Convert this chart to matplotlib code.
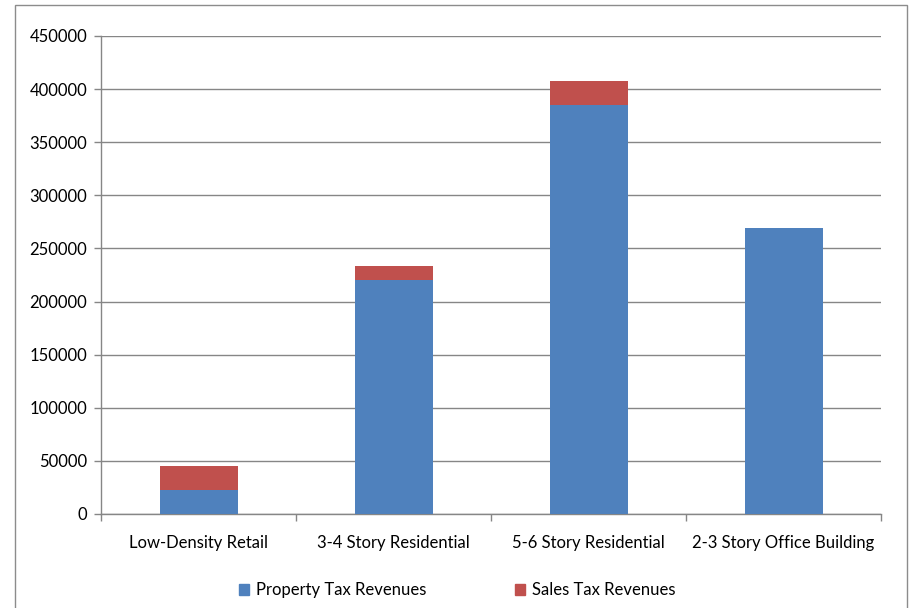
import matplotlib
matplotlib.use("Agg")
import matplotlib.pyplot as plt
from matplotlib.patches import Rectangle, Patch

categories = ["Low-Density Retail", "3-4 Story Residential", "5-6 Story Residential", "2-3 Story Office Building"]
property_tax = [22500, 220000, 385000, 269000]
sales_tax = [22600, 13200, 22800, 0]
y_ticks = [0, 50000, 100000, 150000, 200000, 250000, 300000, 350000, 400000, 450000]

blue = "#4F81BD"
red = "#C0504D"
grid_c = "#868686"

plt.rcParams["font.family"] = ["Lato", "DejaVu Sans"]
FS = 12

W, H = 909, 608
fig = plt.figure(figsize=(W / 100, H / 100), dpi=100)
ax = fig.add_axes([101 / W, 1 - 514 / H, (881 - 101) / W, (514 - 36) / H])

x = list(range(len(categories)))
ax.bar(x, property_tax, width=0.4, color=blue, zorder=3, label="Property Tax Revenues")
ax.bar(x, sales_tax, width=0.4, bottom=property_tax, color=red, zorder=3, label="Sales Tax Revenues")

ax.set_xlim(-0.5, len(categories) - 0.5)
ax.set_ylim(0, 450000)
ax.set_yticks(y_ticks)
ax.set_yticklabels([str(v) for v in y_ticks], fontsize=FS)
ax.yaxis.grid(True, color=grid_c, linewidth=1.0, zorder=0)

ax.set_xticks(x)
ax.set_xticklabels(categories, fontsize=FS)
ax.tick_params(axis="x", length=0, pad=15)
ax.tick_params(axis="y", length=5, color=grid_c, width=1.0, pad=5)
# category boundary ticks along the x-axis
ax.set_xticks([i - 0.5 for i in range(len(categories) + 1)], minor=True)
ax.tick_params(axis="x", which="minor", length=5, color=grid_c, width=1.0)

for s in ["top", "right"]:
    ax.spines[s].set_visible(False)
for s in ["left", "bottom"]:
    ax.spines[s].set_color(grid_c)
    ax.spines[s].set_linewidth(1.0)

handles = [Patch(color=blue), Patch(color=red)]
fig.legend(handles, ["Property Tax Revenues", "Sales Tax Revenues"], loc="center",
           bbox_to_anchor=(457 / W, 1 - 590 / H), ncol=2, frameon=False, fontsize=FS,
           handlelength=0.62, handleheight=0.62, handletextpad=0.4, columnspacing=5.3)

fig.patches.append(Rectangle((15 / W, -0.01), (907 - 15) / W, 1 - 5 / H + 0.01,
                             transform=fig.transFigure, fill=False, edgecolor="#8C8C8C", linewidth=1.0))

fig.savefig("out.png", dpi=100, facecolor="white")
